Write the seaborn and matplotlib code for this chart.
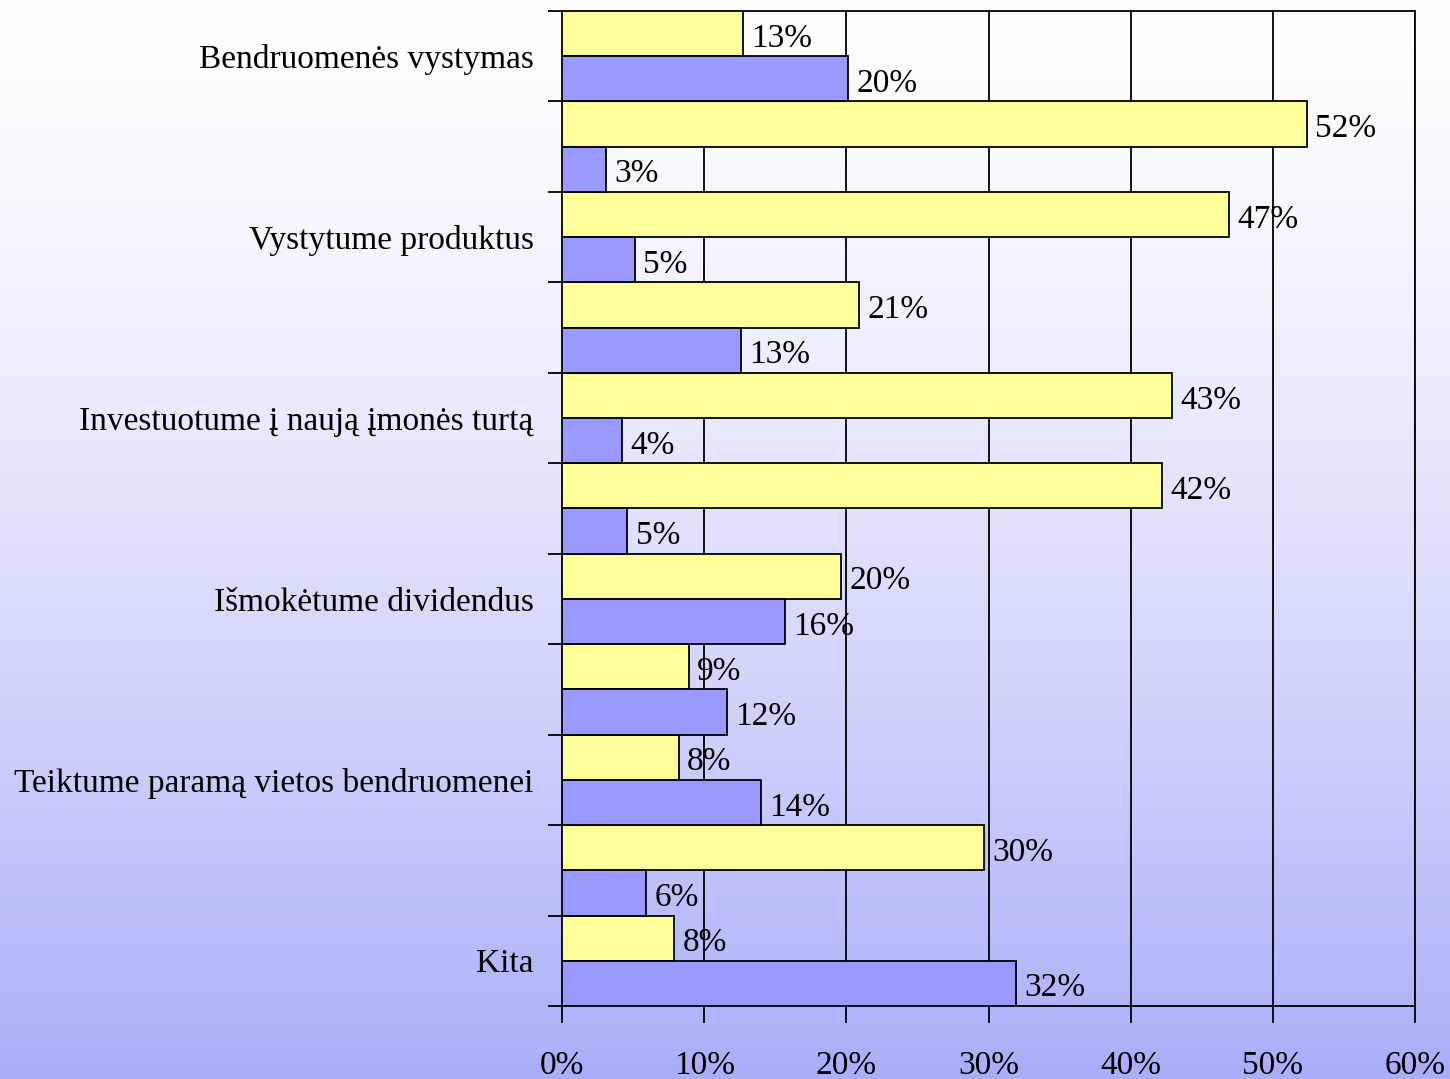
import numpy as np
import pandas as pd
import matplotlib
matplotlib.use("Agg")
import matplotlib.pyplot as plt
import seaborn as sns

# category rows, top to bottom; only every other row carries a label
groups = [f"g{i}" for i in range(11)]
tick_labels = [
    "Bendruomenės vystymas", "",
    "Vystytume produktus", "",
    "Investuotume į naują įmonės turtą", "",
    "Išmokėtume dividendus", "",
    "Teiktume paramą vietos bendruomenei", "",
    "Kita",
]
yellow_vals = [12.7, 52.4, 46.9, 20.9, 42.9, 42.2, 19.6, 8.9, 8.2, 29.7, 7.9]
blue_vals = [20.1, 3.1, 5.1, 12.6, 4.2, 4.6, 15.7, 11.6, 14.0, 5.9, 31.9]
series = ["geltona", "melyna"]
x_ticks = [0, 10, 20, 30, 40, 50, 60]

df = pd.DataFrame({
    "grupe": groups * 2,
    "serija": [series[0]] * 11 + [series[1]] * 11,
    "reiksme": yellow_vals + blue_vals,
})

sns.set_style("ticks")
plt.rcParams["font.family"] = ["Liberation Serif", "DejaVu Serif"]
plt.rcParams["text.color"] = "black"
plt.rcParams["xtick.color"] = "black"
plt.rcParams["ytick.color"] = "black"
plt.rcParams["axes.labelcolor"] = "black"

fig = plt.figure(figsize=(14.5, 10.79), dpi=100)

# gradient background: white at the top to lavender blue at the bottom
bg = fig.add_axes([0, 0, 1, 1], zorder=-1)
grad = np.linspace(0, 1, 256)[:, None] ** 1.4
top = np.array([1.0, 1.0, 1.0])
bot = np.array([170, 174, 249]) / 255
img = top + (bot - top) * grad[..., None]
bg.imshow(np.repeat(img, 2, axis=1), aspect="auto", extent=[0, 1, 0, 1])
bg.axis("off")

ax = fig.add_axes([0.3876, 0.0677, 0.5883, 0.9221])
ax.patch.set_alpha(0)

sns.barplot(data=df, x="reiksme", y="grupe", hue="serija", orient="h",
            palette=["#ffff99", "#9999ff"], saturation=1, width=1.0,
            edgecolor="black", linewidth=1.3, legend=False, ax=ax, zorder=3)

for cont in ax.containers:
    texts = ax.bar_label(cont, labels=[f"{v:.0f}%" for v in cont.datavalues],
                         padding=6, fontsize=24, color="black")
    for t in texts:
        t.xyann = (6, -3.5)

ax.set_xlim(0, 60)
ax.set_ylim(10.5, -0.5)
ax.set_xticks(x_ticks, [f"{t}%" for t in x_ticks])
ax.set_yticks(range(11), tick_labels)
ax.set_yticks(np.arange(-0.5, 11, 1), minor=True)
ax.tick_params(axis="y", which="major", length=0, pad=20.5, labelsize=24)
ax.tick_params(axis="y", which="minor", length=10, width=1.3, color="black")
ax.tick_params(axis="x", length=12, width=1.3, color="black", pad=20, labelsize=24)
ax.set_xlabel("")
ax.set_ylabel("")
ax.xaxis.grid(True, color="black", linewidth=1.3)
ax.set_axisbelow(True)
for s in ax.spines.values():
    s.set_visible(True)
    s.set_color("black")
    s.set_linewidth(1.3)

fig.savefig("out.png", dpi=100)
